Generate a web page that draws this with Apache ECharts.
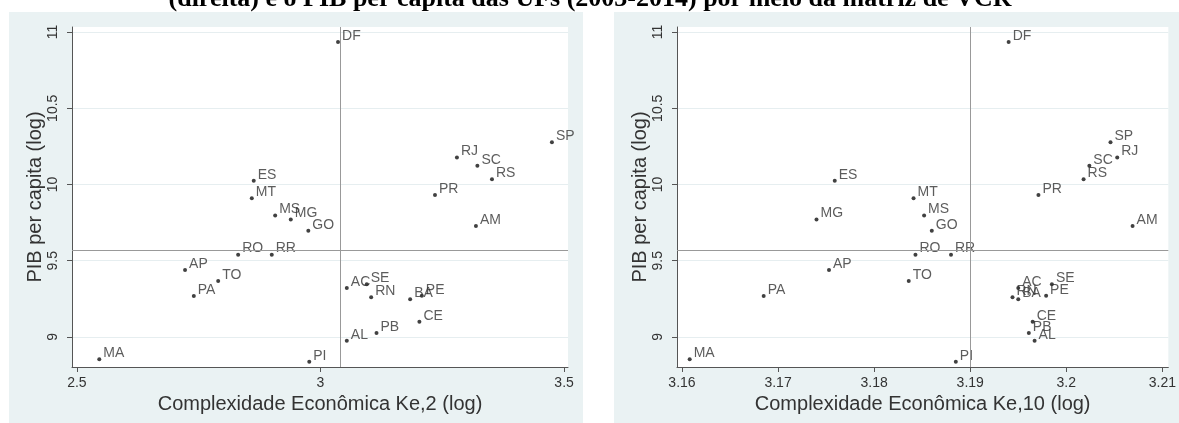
<!DOCTYPE html>
<html>
<head>
<meta charset="utf-8">
<script src="https://cdn.jsdelivr.net/npm/echarts@6/dist/echarts.min.js"></script>
<style>
html, body { margin: 0; padding: 0; background: #fff; }
#chart { width: 1179px; height: 423px; }
</style>
</head>
<body>
<div id="chart"></div>
<script>
// UFs, complexidade (Ke,2 e Ke,10) e PIB per capita (log)
const states = ['DF', 'ES', 'MT', 'MS', 'MG', 'GO', 'SP', 'RJ', 'SC', 'RS', 'PR', 'AM', 'RO', 'RR',
    'AP', 'TO', 'PA', 'MA', 'PI', 'AC', 'SE', 'RN', 'BA', 'PE', 'CE', 'PB', 'AL']
const ke2 = [3.036, 2.863, 2.859, 2.907, 2.939, 2.975, 3.475, 3.280, 3.322, 3.352, 3.235, 3.319, 2.831, 2.900,
    2.722, 2.790, 2.740, 2.546, 2.977, 3.054, 3.095, 3.104, 3.184, 3.208, 3.203, 3.115, 3.054]
const ke10 = [3.1940, 3.1759, 3.1841, 3.1852, 3.1740, 3.1860, 3.2046, 3.2053, 3.2024, 3.2018, 3.1971, 3.2069, 3.1843, 3.1880,
    3.1753, 3.1836, 3.1685, 3.1608, 3.1885, 3.1950, 3.1985, 3.1944, 3.1950, 3.1979, 3.1965, 3.1961, 3.1967]
const pib = [10.935, 10.025, 9.909, 9.796, 9.770, 9.697, 10.277, 10.177, 10.123, 10.034, 9.931, 9.728, 9.540, 9.540,
    9.439, 9.367, 9.269, 8.854, 8.838, 9.321, 9.345, 9.260, 9.248, 9.270, 9.100, 9.026, 8.975]

// linhas de referencia (medias)
const meanKe2 = 3.038
const meanKe10 = 3.1902
const meanPib = 9.572

const yTicks = [9, 9.5, 10, 10.5, 11]
const xTicksLeft = [2.5, 3, 3.5]
const xTicksRight = [3.16, 3.17, 3.18, 3.19, 3.2, 3.21]

const titleText = '(direita) e o PIB per capita das UFs (2003-2014) por meio da matriz de VCR'

const font = 'Liberation Sans'
const axisColor = '#555'
const labelColor = '#333'

function xAxisFor(ticks, min, max, name) {
    return {
        type: 'value',
        min: min,
        max: max,
        name: name,
        nameLocation: 'middle',
        nameGap: 25,
        nameTextStyle: { fontFamily: font, fontSize: 20, color: '#333' },
        axisLine: { show: true, onZero: false, lineStyle: { color: axisColor } },
        axisTick: { show: true, length: 5, customValues: ticks, lineStyle: { color: axisColor } },
        axisLabel: { customValues: ticks, margin: 9, fontFamily: font, fontSize: 14, color: '#333' },
        splitLine: { show: false }
    }
}

function yAxisFor(idx) {
    return {
        type: 'value',
        gridIndex: idx,
        min: 8.803,
        max: 11.033,
        name: 'PIB per capita (log)',
        nameLocation: 'middle',
        nameGap: 25,
        nameTextStyle: { fontFamily: font, fontSize: 20, color: '#333' },
        axisLine: { show: true, onZero: false, lineStyle: { color: axisColor } },
        axisTick: { show: true, length: 5, customValues: yTicks, lineStyle: { color: axisColor } },
        axisLabel: { customValues: yTicks, rotate: 90, margin: 12, fontFamily: font, fontSize: 14, color: '#333' },
        splitLine: { show: true, lineStyle: { color: '#e6eef0', width: 1 } }
    }
}

function seriesFor(idx, xs, meanX) {
    return {
        type: 'scatter',
        xAxisIndex: idx,
        yAxisIndex: idx,
        symbolSize: 4,
        itemStyle: { color: '#111' },
        data: states.map((s, i) => [xs[i], pib[i], s]),
        label: {
            show: true,
            position: 'right',
            distance: 2,
            offset: [0, -6],
            formatter: p => p.data[2],
            fontFamily: font,
            fontSize: 14,
            color: labelColor
        },
        markLine: {
            silent: true,
            symbol: 'none',
            label: { show: false },
            lineStyle: { color: '#999', width: 1, type: 'solid' },
            data: [{ xAxis: meanX }, { yAxis: meanPib }]
        },
        z: 3
    }
}

const option = {
    animation: false,
    backgroundColor: '#fff',
    graphic: [
        { type: 'rect', shape: { x: 9, y: 12, width: 574, height: 420 }, style: { fill: '#eaf2f3' }, z: -10 },
        { type: 'rect', shape: { x: 614, y: 12, width: 570, height: 420 }, style: { fill: '#eaf2f3' }, z: -10 },
        {
            type: 'text',
            style: {
                text: titleText, x: 590, y: 12,
                textAlign: 'center', textVerticalAlign: 'bottom',
                font: 'bold 26px "Liberation Serif"', fill: '#000'
            },
            z: 10
        }
    ],
    grid: [
        { left: 72, top: 27, width: 496, height: 340, show: true, backgroundColor: '#fff', borderWidth: 0 },
        { left: 677, top: 27, width: 496, height: 340, show: true, backgroundColor: '#fff', borderWidth: 0 }
    ],
    xAxis: [
        Object.assign(xAxisFor(xTicksLeft, 2.49, 3.508, 'Complexidade Econômica Ke,2 (log)'), { gridIndex: 0 }),
        Object.assign(xAxisFor(xTicksRight, 3.15948, 3.21062, 'Complexidade Econômica Ke,10 (log)'), { gridIndex: 1 })
    ],
    yAxis: [yAxisFor(0), yAxisFor(1)],
    series: [seriesFor(0, ke2, meanKe2), seriesFor(1, ke10, meanKe10)]
}

const myChart = echarts.init(document.getElementById('chart'))
myChart.setOption(option)
</script>
</body>
</html>
